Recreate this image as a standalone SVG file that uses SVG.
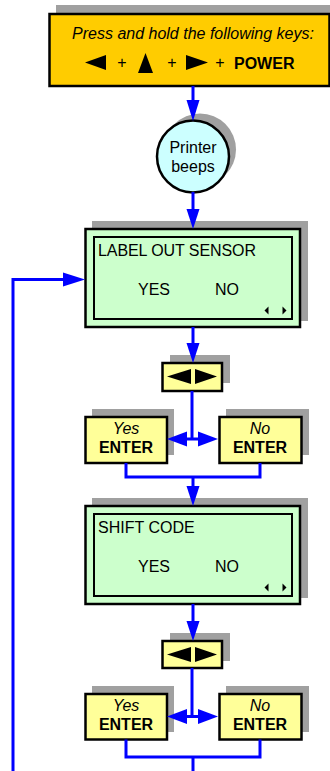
<svg xmlns="http://www.w3.org/2000/svg" width="330" height="771" viewBox="0 0 330 771">
<style>
text{font-family:"Liberation Sans",Arial,sans-serif;font-size:16px;fill:#000}
.sh{fill:#A0A0A0}
.box{stroke:#000;stroke-width:2.5}
.inner{fill:none;stroke:#000;stroke-width:2}
.c{stroke:#0000FF;stroke-width:3;fill:none}
.ah{fill:#0000FF}
.it{font-style:italic}
.b{font-weight:bold}
.m{text-anchor:middle}
</style>
<rect width="330" height="771" fill="#fff"/>
<g id="start">
<rect class="sh" x="56" y="5" width="280" height="73"/>
<rect class="box" x="49.5" y="14" width="280" height="72" fill="#FFCC00"/>
<text class="it m" x="193" y="39">Press and hold the following keys:</text>
<polygon points="85,62.5 106,55 106,70"/>
<text class="m" x="122" y="68">+</text>
<polygon points="145.5,53 138,73 153,73"/>
<text class="m" x="172" y="68">+</text>
<polygon points="208,62.5 186,55 186,70"/>
<text class="m" x="220" y="68">+</text>
<text class="b" x="234" y="69">POWER</text>
</g>
<g id="beeps">
<circle class="sh" cx="200" cy="149.5" r="36"/>
<circle class="box" cx="193" cy="156.5" r="36" fill="#CCFFFF"/>
<text class="m" x="193" y="153">Printer</text>
<text class="m" x="193" y="172">beeps</text>
</g>
<g id="lcd1">
<rect class="sh" x="92" y="221" width="216" height="100"/>
<rect class="box" x="85.5" y="229" width="214.5" height="98" fill="#CCFFCC"/>
<rect class="inner" x="94" y="237" width="198" height="82"/>
<text x="98" y="256" textLength="158" lengthAdjust="spacing">LABEL OUT SENSOR</text>
<text x="138" y="295">YES</text>
<text x="215" y="295">NO</text>
<polygon points="264.5,310.5 268.5,306.5 268.5,314.5"/>
<polygon points="286.5,310.5 282.5,306.5 282.5,314.5"/>
</g>
<g id="arrows1">
<rect class="sh" x="170" y="355" width="60" height="28"/>
<rect class="box" x="162.5" y="363" width="59.5" height="28" fill="#FFFF99"/>
<polygon points="167,376.5 191,369 191,384"/>
<polygon points="217,376.5 195,369 195,384"/>
</g>
<g id="yes1">
<rect class="sh" x="92" y="409" width="82" height="46"/>
<rect class="box" x="85.5" y="417" width="81.5" height="46" fill="#FFFF99"/>
<text class="it m" x="126" y="434">Yes</text>
<text class="b m" x="126" y="453">ENTER</text>
</g>
<g id="no1">
<rect class="sh" x="226" y="409" width="83" height="46"/>
<rect class="box" x="219.5" y="417" width="82" height="46" fill="#FFFF99"/>
<text class="it m" x="260" y="434">No</text>
<text class="b m" x="260" y="453">ENTER</text>
</g>
<g id="lcd2">
<rect class="sh" x="92" y="498" width="216" height="100"/>
<rect class="box" x="85.5" y="506" width="214.5" height="98" fill="#CCFFCC"/>
<rect class="inner" x="94" y="514" width="198" height="82"/>
<text x="98" y="533">SHIFT CODE</text>
<text x="138" y="572">YES</text>
<text x="215" y="572">NO</text>
<polygon points="264.5,587.5 268.5,583.5 268.5,591.5"/>
<polygon points="286.5,587.5 282.5,583.5 282.5,591.5"/>
</g>
<g id="arrows2">
<rect class="sh" x="170" y="633" width="60" height="28"/>
<rect class="box" x="162.5" y="641" width="59.5" height="27" fill="#FFFF99"/>
<polygon points="167,654.5 191,647 191,662"/>
<polygon points="217,654.5 195,647 195,662"/>
</g>
<g id="yes2">
<rect class="sh" x="92" y="686" width="82" height="46"/>
<rect class="box" x="85.5" y="694" width="81.5" height="45.5" fill="#FFFF99"/>
<text class="it m" x="126" y="711">Yes</text>
<text class="b m" x="126" y="730">ENTER</text>
</g>
<g id="no2">
<rect class="sh" x="226" y="686" width="83" height="46"/>
<rect class="box" x="219.5" y="694" width="82" height="45.5" fill="#FFFF99"/>
<text class="it m" x="260" y="711">No</text>
<text class="b m" x="260" y="730">ENTER</text>
</g>
<g id="connectors">
<line class="c" x1="193" y1="86" x2="193" y2="102"/>
<polygon class="ah" points="193,121 186.5,100 199.5,100"/>
<line class="c" x1="193" y1="192" x2="193" y2="211"/>
<polygon class="ah" points="193,229 186.5,209 199.5,209"/>
<polyline class="c" points="13,771 13,279.5 66,279.5"/>
<polygon class="ah" points="85,279.5 63,272.5 63,286.5"/>
<line class="c" x1="193" y1="327" x2="193" y2="345"/>
<polygon class="ah" points="193,363 186.5,343 199.5,343"/>
<polyline class="c" points="192,391 192,439"/>
<line class="c" x1="185" y1="439" x2="200" y2="439"/>
<polygon class="ah" points="167,439 187,431.5 187,446.5"/>
<polygon class="ah" points="218,439 198,431.5 198,446.5"/>
<polyline class="c" points="126,463 126,477 260,477 260,463"/>
<line class="c" x1="193" y1="477" x2="193" y2="488"/>
<polygon class="ah" points="193,506 186.5,486 199.5,486"/>
<line class="c" x1="193" y1="604" x2="193" y2="623"/>
<polygon class="ah" points="193,641 186.5,621 199.5,621"/>
<polyline class="c" points="192,668 192,716.5"/>
<line class="c" x1="185" y1="716.5" x2="200" y2="716.5"/>
<polygon class="ah" points="167,716.5 187,709 187,724"/>
<polygon class="ah" points="218,716.5 198,709 198,724"/>
<polyline class="c" points="126,739.5 126,757 260,757 260,739.5"/>
<line class="c" x1="193" y1="757" x2="193" y2="771"/>
</g>
</svg>
